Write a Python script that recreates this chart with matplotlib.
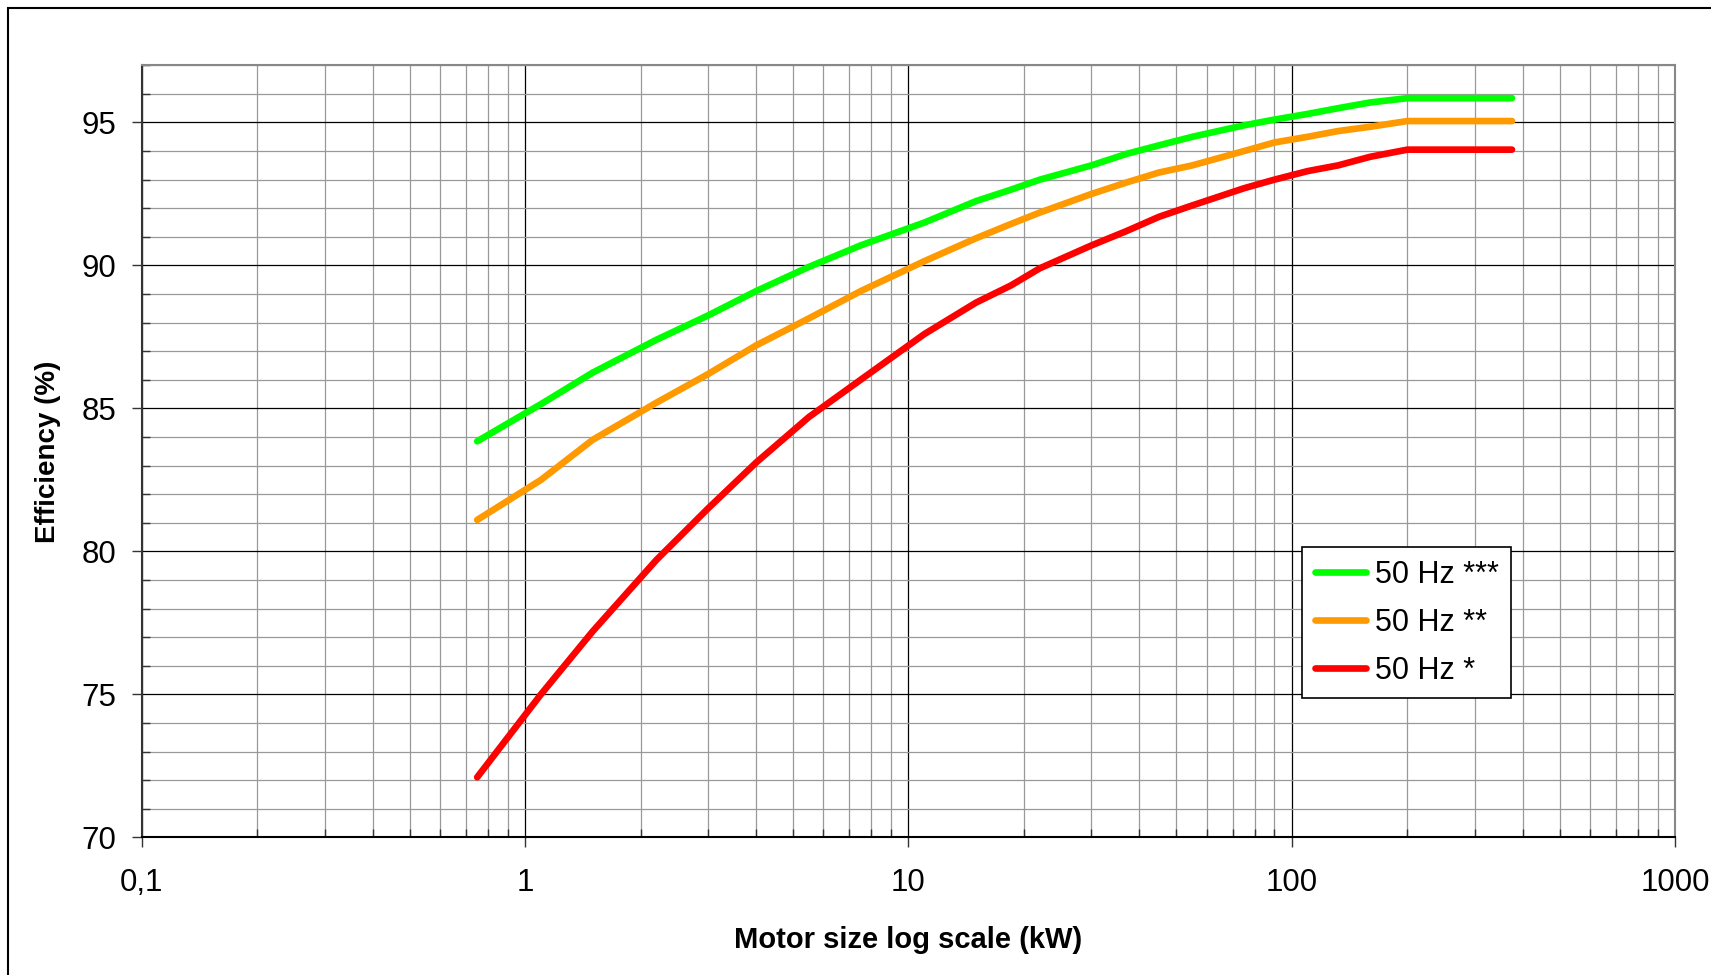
import matplotlib
matplotlib.use("Agg")
import matplotlib.pyplot as plt
from matplotlib.ticker import FixedLocator, LogLocator, MultipleLocator, FuncFormatter, NullFormatter
from matplotlib.patches import Rectangle

plt.rcParams['font.family'] = ['Liberation Sans', 'DejaVu Sans']

# Rated motor output (kW)
motor_kw = [0.75, 1.1, 1.5, 2.2, 3, 4, 5.5, 7.5, 11, 15, 18.5, 22, 30, 37, 45,
            55, 75, 90, 110, 132, 160, 200, 250, 315, 355, 375]

# Efficiency limits (%) per class
eff_3star = [83.85, 85.15, 86.25, 87.4, 88.25, 89.1, 89.95, 90.7, 91.5, 92.25,
             92.65, 93.0, 93.5, 93.9, 94.2, 94.5, 94.9, 95.1, 95.3, 95.5, 95.7,
             95.85, 95.85, 95.85, 95.85, 95.85]
eff_2star = [81.1, 82.5, 83.9, 85.2, 86.2, 87.2, 88.15, 89.1, 90.15, 90.95,
             91.45, 91.85, 92.5, 92.9, 93.25, 93.5, 94.0, 94.3, 94.5, 94.7,
             94.85, 95.05, 95.05, 95.05, 95.05, 95.05]
eff_1star = [72.1, 75.0, 77.2, 79.7, 81.5, 83.1, 84.7, 86.0, 87.6, 88.7, 89.3,
             89.9, 90.7, 91.2, 91.7, 92.1, 92.7, 93.0, 93.3, 93.5, 93.8, 94.05,
             94.05, 94.05, 94.05, 94.05]

series_labels = ["50 Hz ***", "50 Hz **", "50 Hz *"]
series_colors = ["#00FF00", "#FF9900", "#FF0000"]

x_ticks = [0.1, 1, 10, 100, 1000]
y_ticks = [70, 75, 80, 85, 90, 95]

W, H = 1711, 975
fig = plt.figure(figsize=(W / 100, H / 100), dpi=100)
fig.patch.set_facecolor('white')

ax_l, ax_r, ax_t, ax_b = 141.7, 1675.3, 65.3, 837.3
ax = fig.add_axes([ax_l / W, 1 - ax_b / H, (ax_r - ax_l) / W, (ax_b - ax_t) / H])
ax.set_xscale('log')
ax.set_xlim(0.1, 1000)
ax.set_ylim(70, 97)

for vals, lab, col in zip([eff_3star, eff_2star, eff_1star], series_labels, series_colors):
    ax.plot(motor_kw, vals, color=col, lw=4.8, solid_capstyle='round',
            solid_joinstyle='round', label=lab, zorder=3)

# Axis ticks and grid
ax.xaxis.set_major_locator(FixedLocator(x_ticks))
ax.xaxis.set_minor_locator(LogLocator(base=10, subs=range(2, 10), numticks=20))
ax.xaxis.set_minor_formatter(NullFormatter())
ax.xaxis.set_major_formatter(FuncFormatter(lambda v, p: f"{v:g}".replace('.', ',')))
ax.yaxis.set_major_locator(FixedLocator(y_ticks))
ax.yaxis.set_minor_locator(MultipleLocator(1))

ax.grid(which='major', color='black', lw=0.9)
ax.grid(which='minor', color='#999999', lw=0.9)
ax.set_axisbelow(True)

ax.tick_params(which='major', direction='out', length=7.2, width=1.0,
               color='#333333', labelsize=22.5, labelcolor='black')
ax.tick_params(axis='x', which='major', pad=15)
ax.tick_params(axis='y', which='major', pad=11)
ax.tick_params(which='minor', direction='in', length=5.8, width=1.0, color='#333333')

for side in ('top', 'right'):
    ax.spines[side].set_color('#888888')
    ax.spines[side].set_linewidth(1.5)
ax.spines['left'].set_color('#333333')
ax.spines['left'].set_linewidth(1.5)
ax.spines['bottom'].set_color('black')
ax.spines['bottom'].set_linewidth(1.5)

# Axis titles
fig.text(48 / W, 1 - 451.7 / H, 'Efficiency (%)', rotation=90, ha='center',
         va='center', fontsize=20, fontweight='bold')
fig.text(908.5 / W, 1 - 940 / H, 'Motor size log scale (kW)', ha='center',
         va='center', fontsize=21, fontweight='bold')

# Legend
leg = ax.legend(loc='upper left', bbox_to_anchor=(1302.3 / W, 1 - 547.3 / H),
                bbox_transform=fig.transFigure, fontsize=22, frameon=True,
                fancybox=False, shadow=False, framealpha=1, edgecolor='black',
                handlelength=1.65, handletextpad=0.3, labelspacing=0.58,
                borderpad=0.42, borderaxespad=0)
leg.get_frame().set_linewidth(1.2)

# Outer chart border
fig.patches.append(Rectangle((8.3 / W, -0.05), 1.2, (1 - 8.3 / H) + 0.05,
                             transform=fig.transFigure, fill=False,
                             ec='black', lw=1.5, clip_on=False))

fig.savefig('out.png', dpi=100)
